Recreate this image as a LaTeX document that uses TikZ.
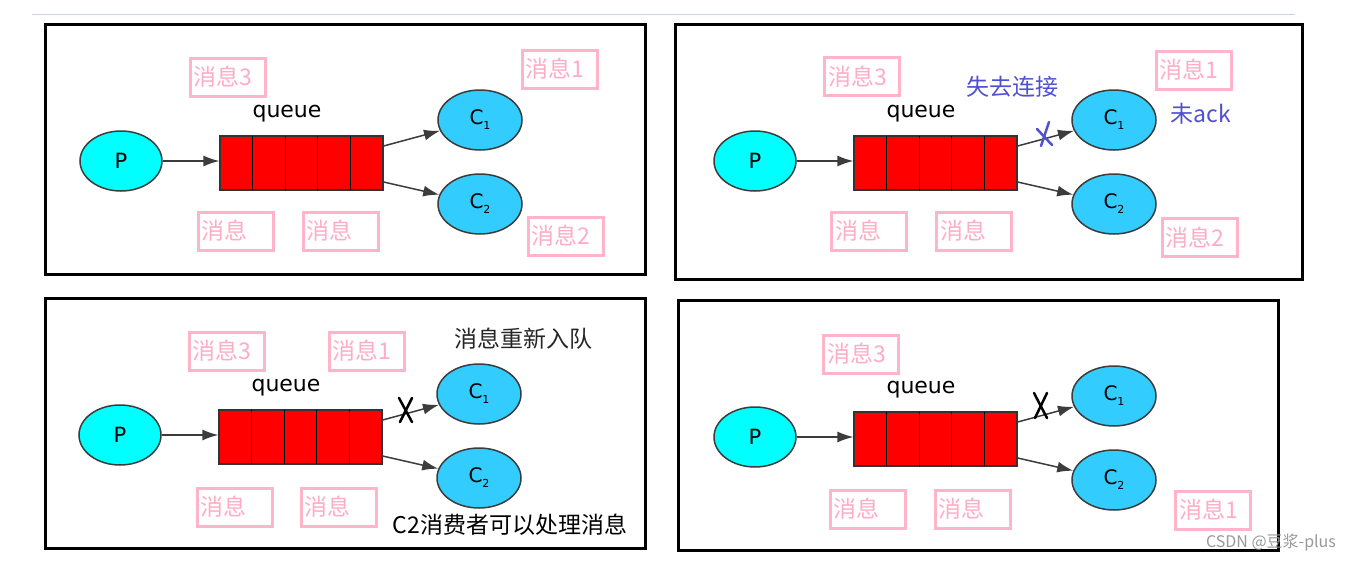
\documentclass[tikz,border=0pt]{standalone}
\usepackage{fontspec}
\setmainfont{DejaVu Sans}
\newfontfamily\cjk{Noto Sans CJK SC}
\usetikzlibrary{arrows.meta,calc,shapes.geometric}
\definecolor{pinkc}{RGB}{255,180,202}
\definecolor{pinkt}{RGB}{255,172,198}
\definecolor{pcyan}{RGB}{0,255,255}
\definecolor{cblue}{RGB}{51,204,255}
\definecolor{edgegray}{RGB}{60,60,60}
\definecolor{lblue}{RGB}{80,80,210}
\definecolor{topline}{RGB}{200,212,228}
\tikzset{
  panel/.style={draw=black,line width=3},
  pnode/.style={ellipse,draw=edgegray,line width=1.5,fill=pcyan,minimum width=82,minimum height=60,inner sep=0,font=\fontsize{21}{21}\selectfont},
  cnode/.style={ellipse,draw=edgegray,line width=1.5,fill=cblue,minimum width=84,minimum height=60,inner sep=0,font=\fontsize{20}{20}\selectfont},
  queuebox/.style={rectangle,draw=black!80,line width=1.2,fill=red,minimum width=163,minimum height=54,inner sep=0},
  qlabel/.style={font=\fontsize{22}{22}\selectfont},
  arr/.style={draw=edgegray,line width=1.5,-{Latex[length=16,width=11]}},
  pinkbox/.style={draw=pinkc,line width=3,text=pinkt,font=\cjk\fontsize{23}{23}\selectfont,minimum width=75,minimum height=38,inner sep=0,text width=68,align=left},
  cjktext/.style={font=\cjk\fontsize{23}{23}\selectfont,inner sep=0},
  xmark/.style={line width=2.5,line cap=round},
}
\newcommand\csub[1]{\raisebox{-0.25em}{\fontsize{11}{11}\selectfont #1}}
\newcommand\qscene[3]{%
  \begin{scope}[shift={(#2,#3)}]
    \node[pnode] (#1P) at (0,0) {P};
    \node[queuebox] (#1q) at (180.5,2) {};
    \foreach \i in {1,...,4} \draw[line width=1.2] (99+\i*32.6,-25) -- (99+\i*32.6,29);
    \node[qlabel] (#1ql) at (166,-47) {queue};
    \node[cnode] (#1C1) at (359,-41) {C\csub{1}};
    \node[cnode] (#1C2) at (359,43) {C\csub{2}};
    \draw[arr] (#1P.east) -- (#1P.east -| #1q.west);
    \draw[arr] ([yshift=17]#1q.east) -- (#1C1);
    \draw[arr] ([yshift=-19]#1q.east) -- (#1C2);
  \end{scope}}
\begin{document}
\begin{tikzpicture}[x=1pt,y=-1pt]
\useasboundingbox (0,0) rectangle (1352,562);
\fill[white] (0,0) rectangle (1352,562);
\coordinate (tl) at (32,14);
\coordinate (tr) at (1295,14);
\draw[topline,line width=1] (tl) -- (tr);
% panels
\draw[panel] (45,24) rectangle (645,274);
\draw[panel] (675,24) rectangle (1302,279);
\draw[panel] (45,298) rectangle (645,548);
\draw[panel] (678,300) rectangle (1278,550);
% scenes
\qscene{a}{121}{161}
\qscene{b}{755}{161}
\qscene{c}{120}{435}
\qscene{d}{755}{437}
% panel 1 boxes
\node[pinkbox] (a1) at (227.5,77) {消息3};
\node[pinkbox] (a2) at (559.5,69) {消息1};
\node[pinkbox] (a3) at (235.5,231) {消息};
\node[pinkbox] (a4) at (340.5,231) {消息};
\node[pinkbox] (a5) at (565.5,236) {消息2};
% panel 2
\node[pinkbox] (b1) at (862,76.5) {消息3};
\node[pinkbox] (b2) at (1193.5,70) {消息1};
\node[pinkbox] (b3) at (869,231) {消息};
\node[pinkbox] (b4) at (974,231) {消息};
\node[pinkbox] (b5) at (1199.5,237.5) {消息2};
\node[cjktext,text=lblue] (bt1) at (1012,87) {失去连接};
\node[cjktext,text=lblue] (bt2) at (1201,114) {未ack};
\draw[xmark,draw=lblue] (1049,122) -- (1041,146);
\draw[xmark,draw=lblue] (1037,129) -- (1052,145);
% panel 3
\node[pinkbox] (c1) at (226.5,351) {消息3};
\node[pinkbox] (c2) at (366.5,351) {消息1};
\node[pinkbox] (c3) at (234.5,507) {消息};
\node[pinkbox] (c4) at (338.5,507) {消息};
\node[cjktext,text=black!85] (ct1) at (523,339) {消息重新入队};
\node[cjktext,text=black] (ct2) at (510,525) {C2消费者可以处理消息};
\draw[xmark] (399,398) -- (412,422);
\draw[xmark] (412,398) -- (400,422);
% panel 4
\node[pinkbox] (d1) at (861,354) {消息3};
\node[pinkbox] (d2) at (867.5,509) {消息};
\node[pinkbox] (d3) at (972.5,509) {消息};
\node[pinkbox] (d4) at (1213,510) {消息1};
\draw[xmark] (1034,393) -- (1047,418);
\draw[xmark] (1047,393) -- (1035,418);
% watermark
\node[font=\cjk\fontsize{16}{16}\selectfont,text=black!40,inner sep=0] (wm) at (1271,543) {CSDN @豆浆-plus};
\end{tikzpicture}
\end{document}
